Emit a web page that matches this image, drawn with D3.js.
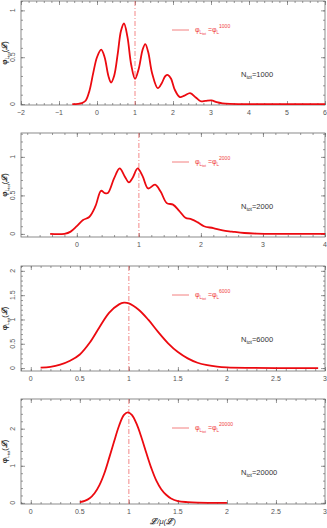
<!DOCTYPE html>
<html>
<head>
<meta charset="utf-8">
<script src="https://cdn.jsdelivr.net/npm/d3@7"></script>
<style>
  body { margin: 0; background: #fff; }
  text { font-family: "Liberation Sans", Arial, sans-serif; }
</style>
</head>
<body>
<div id="chart"></div>
<script>
// sample sizes of the four panels
var nTot = [1000, 2000, 6000, 20000];

// curve: x = L/mu(L), y = phi
var x1000 = [-0.65, -0.5, -0.4, -0.3, -0.2, -0.1, 0.0, 0.11, 0.2, 0.3, 0.37, 0.45, 0.55, 0.63, 0.71, 0.8, 0.9, 1.0, 1.1, 1.2, 1.27, 1.35, 1.45, 1.6, 1.7, 1.8, 1.87, 1.95, 2.05, 2.18, 2.3, 2.45, 2.6, 2.73, 2.85, 3.01, 3.15, 3.3, 3.5, 4.0, 6.0];
var y1000 = [0, 0.002, 0.01, 0.035, 0.14, 0.33, 0.5, 0.58, 0.5, 0.3, 0.23, 0.3, 0.55, 0.78, 0.86, 0.72, 0.42, 0.27, 0.38, 0.58, 0.64, 0.55, 0.33, 0.17, 0.22, 0.3, 0.31, 0.27, 0.15, 0.075, 0.09, 0.117, 0.07, 0.03, 0.033, 0.04, 0.02, 0.008, 0.002, 0, 0];

var x2000 = [-0.43, -0.2, -0.1, 0.0, 0.1, 0.2, 0.3, 0.39, 0.45, 0.5, 0.6, 0.69, 0.77, 0.84, 0.9, 0.98, 1.06, 1.15, 1.26, 1.35, 1.45, 1.55, 1.65, 1.75, 1.85, 1.95, 2.05, 2.2, 2.35, 2.5, 2.7, 2.9, 3.2, 4.0];
var y2000 = [0, 0.002, 0.03, 0.1, 0.18, 0.22, 0.36, 0.56, 0.53, 0.53, 0.72, 0.85, 0.75, 0.67, 0.73, 0.85, 0.75, 0.59, 0.64, 0.55, 0.4, 0.38, 0.3, 0.21, 0.19, 0.15, 0.1, 0.075, 0.045, 0.03, 0.012, 0.004, 0, 0];

var x6000 = [0.1, 0.2, 0.3, 0.4, 0.5, 0.6, 0.7, 0.8, 0.9, 0.95, 1.0, 1.1, 1.2, 1.3, 1.4, 1.5, 1.6, 1.7, 1.8, 1.9, 2.0, 2.2, 2.5, 2.93];
var y6000 = [0.01, 0.025, 0.07, 0.15, 0.28, 0.52, 0.84, 1.14, 1.31, 1.345, 1.33, 1.2, 0.99, 0.74, 0.51, 0.33, 0.2, 0.11, 0.06, 0.03, 0.015, 0.005, 0.001, 0];

var x20000 = [0.5, 0.55, 0.6, 0.65, 0.7, 0.75, 0.8, 0.85, 0.9, 0.95, 0.99, 1.03, 1.08, 1.13, 1.18, 1.23, 1.28, 1.33, 1.38, 1.43, 1.5, 1.6, 1.7, 1.85, 2.0];
var y20000 = [0.02, 0.056, 0.125, 0.26, 0.48, 0.8, 1.22, 1.66, 2.08, 2.37, 2.44, 2.37, 2.12, 1.75, 1.33, 0.93, 0.6, 0.37, 0.22, 0.12, 0.05, 0.02, 0.006, 0.002, 0];

// axis settings per panel
var xDomains = [[-2, 6], [-0.9, 4], [-0.1, 3], [-0.1, 3]];
var yDomains = [[-0.01, 1.1], [-0.04, 1.31], [-0.06, 2.1], [-0.03, 2.8]];
var xMajor = [[-2, -1, 0, 1, 2, 3, 4, 5, 6], [0, 1, 2, 3, 4], [0, 0.5, 1, 1.5, 2, 2.5, 3], [0, 0.5, 1, 1.5, 2, 2.5, 3]];
var yMajor = [[0, 0.5, 1], [0, 0.5, 1], [0, 0.5, 1, 1.5, 2], [0, 1, 2]];
var xMinorStep = [0.2, 0.2, 0.1, 0.1];
var yMinorStep = [0.1, 0.1, 0.1, 0.2];

var curves = [
  d3.zip(x1000, y1000),
  d3.zip(x2000, y2000),
  d3.zip(x6000, y6000),
  d3.zip(x20000, y20000)
];

var width = 327, height = 528;
var left = 21, right = 325;
var tops = [1, 133, 266, 399];
var bottoms = [105, 237, 371, 504];

var red = "#ec0a10";
var axisGrey = "#6e6e6e";
var labelGrey = "#555";

var svg = d3.select("#chart").append("svg")
  .attr("width", width)
  .attr("height", height);

function fmt(v) {
  return v < 0 ? "\u2212" + Math.abs(v) : String(v);
}

function minorTicks(domain, step) {
  var lo = Math.ceil(domain[0] / step - 1e-9), hi = Math.floor(domain[1] / step + 1e-9);
  return d3.range(lo, hi + 1).map(function(k) { return +(k * step).toFixed(4); });
}

nTot.forEach(function(n, i) {
  var top = tops[i], bottom = bottoms[i];
  var x = d3.scaleLinear().domain(xDomains[i]).range([left, right]);
  var y = d3.scaleLinear().domain(yDomains[i]).range([bottom, top]);
  var g = svg.append("g");

  // frame
  g.append("rect")
    .attr("x", left).attr("y", top)
    .attr("width", right - left).attr("height", bottom - top)
    .attr("fill", "none")
    .attr("stroke", axisGrey)
    .attr("stroke-width", 0.8);

  // ticks on all four sides, pointing in
  var xMin = minorTicks(xDomains[i], xMinorStep[i]);
  var yMin = minorTicks(yDomains[i], yMinorStep[i]);
  var sets = [
    [d3.axisBottom(x), bottom, "x"], [d3.axisTop(x), top, "x"],
    [d3.axisLeft(y), left, "y"], [d3.axisRight(y), right, "y"]
  ];
  sets.forEach(function(s) {
    var isX = s[2] == "x";
    var tr = isX ? "translate(0," + s[1] + ")" : "translate(" + s[1] + ",0)";
    var minor = g.append("g").attr("transform", tr)
      .call(s[0].tickValues(isX ? xMin : yMin).tickSize(-2).tickFormat(""));
    minor.select(".domain").remove();
    minor.selectAll("line").attr("stroke", axisGrey).attr("stroke-width", 0.7);
    var major = g.append("g").attr("transform", tr)
      .call(s[0].tickValues(isX ? xMajor[i] : yMajor[i]).tickSize(-4).tickFormat(""));
    major.select(".domain").remove();
    major.selectAll("line").attr("stroke", axisGrey).attr("stroke-width", 0.7);
  });

  // tick labels
  g.selectAll(".xlab").data(xMajor[i]).enter().append("text")
    .attr("x", function(d) { return x(d); })
    .attr("y", bottom + 10)
    .attr("text-anchor", "middle")
    .attr("font-size", 7)
    .attr("fill", labelGrey)
    .text(fmt);

  g.selectAll(".ylab").data(yMajor[i]).enter().append("text")
    .attr("transform", function(d) { return "translate(" + (left - 6) + "," + y(d) + ") rotate(-90)"; })
    .attr("text-anchor", "middle")
    .attr("font-size", 7)
    .attr("fill", labelGrey)
    .text(fmt);

  // y axis title
  var yt = g.append("text")
    .attr("transform", "translate(7," + ((top + bottom) / 2) + ") rotate(-90)")
    .attr("text-anchor", "middle")
    .attr("font-size", 7.5)
    .attr("fill", "#222");
  yt.append("tspan").attr("font-weight", "bold").text("\u03c6");
  yt.append("tspan").attr("font-size", 5).attr("dy", 2).text("L");
  yt.append("tspan").attr("font-size", 4).attr("dy", 1).text("tot");
  yt.append("tspan").attr("dy", -3).text("(");
  yt.append("tspan").attr("font-style", "italic").attr("font-weight", "bold").text("\u2112");
  yt.append("tspan").text(")");

  // reference line at L = mu(L)
  g.append("line")
    .attr("x1", x(1)).attr("x2", x(1))
    .attr("y1", top).attr("y2", bottom)
    .attr("stroke", "#f06a6a")
    .attr("stroke-width", 0.8)
    .attr("stroke-dasharray", "5,2,1,2");

  // curve
  var line = d3.line()
    .x(function(d) { return x(d[0]); })
    .y(function(d) { return y(d[1]); })
    .curve(d3.curveCatmullRom.alpha(0.5));

  g.append("path")
    .datum(curves[i])
    .attr("d", line)
    .attr("fill", "none")
    .attr("stroke", red)
    .attr("stroke-width", 1.8);

  // legend
  var ly = top + 29;
  g.append("line")
    .attr("x1", 172).attr("x2", 189)
    .attr("y1", ly).attr("y2", ly)
    .attr("stroke", "#f06060")
    .attr("stroke-width", 0.8);
  var lt = g.append("text")
    .attr("x", 195).attr("y", ly + 2)
    .attr("font-size", 7)
    .attr("fill", "#f03c3c");
  lt.append("tspan").text("\u03c6");
  lt.append("tspan").attr("font-size", 4.5).attr("dy", 2).text("L");
  lt.append("tspan").attr("font-size", 3.5).attr("dy", 1).text("tot");
  lt.append("tspan").attr("dy", -3).text(" =\u03c6");
  lt.append("tspan").attr("font-size", 4.5).attr("dy", 2).text("L");
  lt.append("tspan").attr("font-size", 5).attr("dy", -6).text(n);

  // sample size label
  var nt = g.append("text")
    .attr("x", 241).attr("y", top + 76)
    .attr("font-size", 7.5)
    .attr("fill", "#333");
  nt.append("tspan").text("N");
  nt.append("tspan").attr("font-size", 5).attr("dy", 2).text("tot");
  nt.append("tspan").attr("dy", -2).text("=" + n);
});

// x axis title
var xt = svg.append("text")
  .attr("x", 163).attr("y", 524)
  .attr("text-anchor", "middle")
  .attr("font-size", 8)
  .attr("font-style", "italic")
  .attr("fill", "#333");
xt.append("tspan").attr("font-weight", "bold").text("\u2112");
xt.append("tspan").text("/\u03bc(");
xt.append("tspan").attr("font-weight", "bold").text("\u2112");
xt.append("tspan").text(")");
</script>
</body>
</html>
